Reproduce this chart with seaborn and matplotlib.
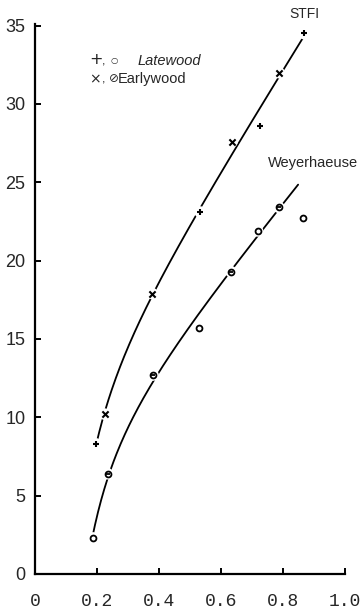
import numpy as np
import pandas as pd
import matplotlib
matplotlib.use("Agg")
import matplotlib.pyplot as plt
import seaborn as sns

# values
stfi_late_x = [0.196, 0.532, 0.724, 0.866]
stfi_late_y = [8.3, 23.1, 28.6, 34.5]
stfi_early_x = [0.224, 0.377, 0.635, 0.786]
stfi_early_y = [10.2, 17.9, 27.6, 32.0]

wey_late_x = [0.186, 0.528, 0.717, 0.864]
wey_late_y = [2.3, 15.7, 21.9, 22.7]
wey_early_x = [0.233, 0.380, 0.631, 0.786]
wey_early_y = [6.4, 12.7, 19.3, 23.4]

x_ticks = [0, 0.2, 0.4, 0.6, 0.8, 1.0]
x_tick_labels = ["0", "0.2", "0.4", "0.6", "0.8", "1.0"]
y_ticks = [0, 5, 10, 15, 20, 25, 30, 35]

# the drawn Weyerhaeuser curve stops short of its last (outlying) point
wey_curve_end = 0.848


def fit_curve(xs, ys, x0, x1):
    # y = a + b*x + c/x^2, least squares
    xs = np.asarray(xs)
    ys = np.asarray(ys)
    A = np.column_stack([np.ones_like(xs), xs, xs ** -2])
    coef, *_ = np.linalg.lstsq(A, ys, rcond=None)
    xx = np.linspace(x0, x1, 200)
    yy = coef[0] + coef[1] * xx + coef[2] * xx ** -2
    return pd.DataFrame({"x": xx, "y": yy})


stfi_x = stfi_late_x + stfi_early_x
stfi_y = stfi_late_y + stfi_early_y
wey_x = wey_late_x[:-1] + wey_early_x
wey_y = wey_late_y[:-1] + wey_early_y

stfi_curve = fit_curve(stfi_x, stfi_y, min(stfi_x), max(stfi_x))
wey_curve = fit_curve(wey_x, wey_y, min(wey_x), wey_curve_end)

sns.set_style("ticks")
plt.rcParams["font.family"] = ["Liberation Sans", "DejaVu Sans"]

fig = plt.figure(figsize=(3.6, 6.11), dpi=100)
ax = fig.add_axes([0.098, 0.0606, 0.861, 0.900])

sns.lineplot(data=stfi_curve, x="x", y="y", color="black", lw=1.3,
             ax=ax, zorder=2)
sns.lineplot(data=wey_curve, x="x", y="y", color="black", lw=1.3,
             ax=ax, zorder=2)

# white halos so the curves break around the points, like the original
all_x = stfi_late_x + stfi_early_x + wey_late_x + wey_early_x
all_y = stfi_late_y + stfi_early_y + wey_late_y + wey_early_y
sns.scatterplot(x=all_x, y=all_y, marker="o", s=70, color="white",
                edgecolor="none", ax=ax, zorder=3)

sns.scatterplot(x=stfi_late_x, y=stfi_late_y, marker="+", s=24,
                color="black", linewidth=1.5, ax=ax, zorder=4)
sns.scatterplot(x=stfi_early_x, y=stfi_early_y, marker="x", s=20,
                color="black", linewidth=1.5, ax=ax, zorder=4)
sns.scatterplot(x=wey_late_x, y=wey_late_y, marker="o", s=18,
                facecolor="white", edgecolor="black", linewidth=1.3,
                ax=ax, zorder=4)
sns.scatterplot(x=wey_early_x, y=wey_early_y, marker="o", s=18,
                facecolor="white", edgecolor="black", linewidth=1.3,
                ax=ax, zorder=4)
sns.scatterplot(x=wey_early_x, y=wey_early_y, marker="_", s=10,
                color="black", linewidth=1.3, ax=ax, zorder=5)

ax.set_xlim(0, 1.0)
ax.set_ylim(0, 35.1)
ax.set_xticks(x_ticks)
ax.set_xticklabels(x_tick_labels, family=["Liberation Mono", "DejaVu Sans Mono"],
                   fontsize=13)
ax.set_yticks(y_ticks)
ax.set_yticklabels([str(v) for v in y_ticks],
                   family=["Liberation Sans Narrow", "Liberation Sans"],
                   fontsize=13)
ax.tick_params(axis="both", direction="in", length=4, width=1.4,
               color="black")
ax.tick_params(axis="x", pad=14)
ax.tick_params(axis="y", pad=7)
ax.set_xlabel("")
ax.set_ylabel("")
sns.despine(ax=ax)
for side in ("left", "bottom"):
    ax.spines[side].set_linewidth(1.6)
    ax.spines[side].set_color("black")
ax.set_facecolor("white")
fig.patch.set_facecolor("white")

# curve labels and key
fig.text(304 / 360, 1 - 14 / 611, "STFI", ha="center", va="center",
         fontsize=10)
fig.text(268 / 360, 1 - 163 / 611, "Weyerhaeuse", ha="left", va="center",
         fontsize=10.5)

key_font = ["DejaVu Sans"]
fig.text(96 / 360, 1 - 60 / 611, "+", ha="center", va="center",
         fontsize=11.5, family=key_font)
fig.text(95 / 360, 1 - 79 / 611, "\u00d7", ha="center", va="center",
         fontsize=10, family=key_font)
fig.text(102 / 360, 1 - 62 / 611, ",", ha="left", va="center",
         fontsize=9)
fig.text(102 / 360, 1 - 80 / 611, ",", ha="left", va="center",
         fontsize=9)
fig.text(114 / 360, 1 - 60 / 611, "\u25cb", ha="center", va="center",
         fontsize=6, family=key_font)
fig.text(114 / 360, 1 - 79 / 611, "\u2298", ha="center", va="center",
         fontsize=8.5, family=key_font)
fig.text(138 / 360, 1 - 61 / 611, "Latewood", ha="left", va="center",
         fontsize=10.5, style="italic")
fig.text(118 / 360, 1 - 79 / 611, "Earlywood", ha="left",
         va="center", fontsize=10.5)

fig.savefig("out.png", dpi=100, facecolor="white")
